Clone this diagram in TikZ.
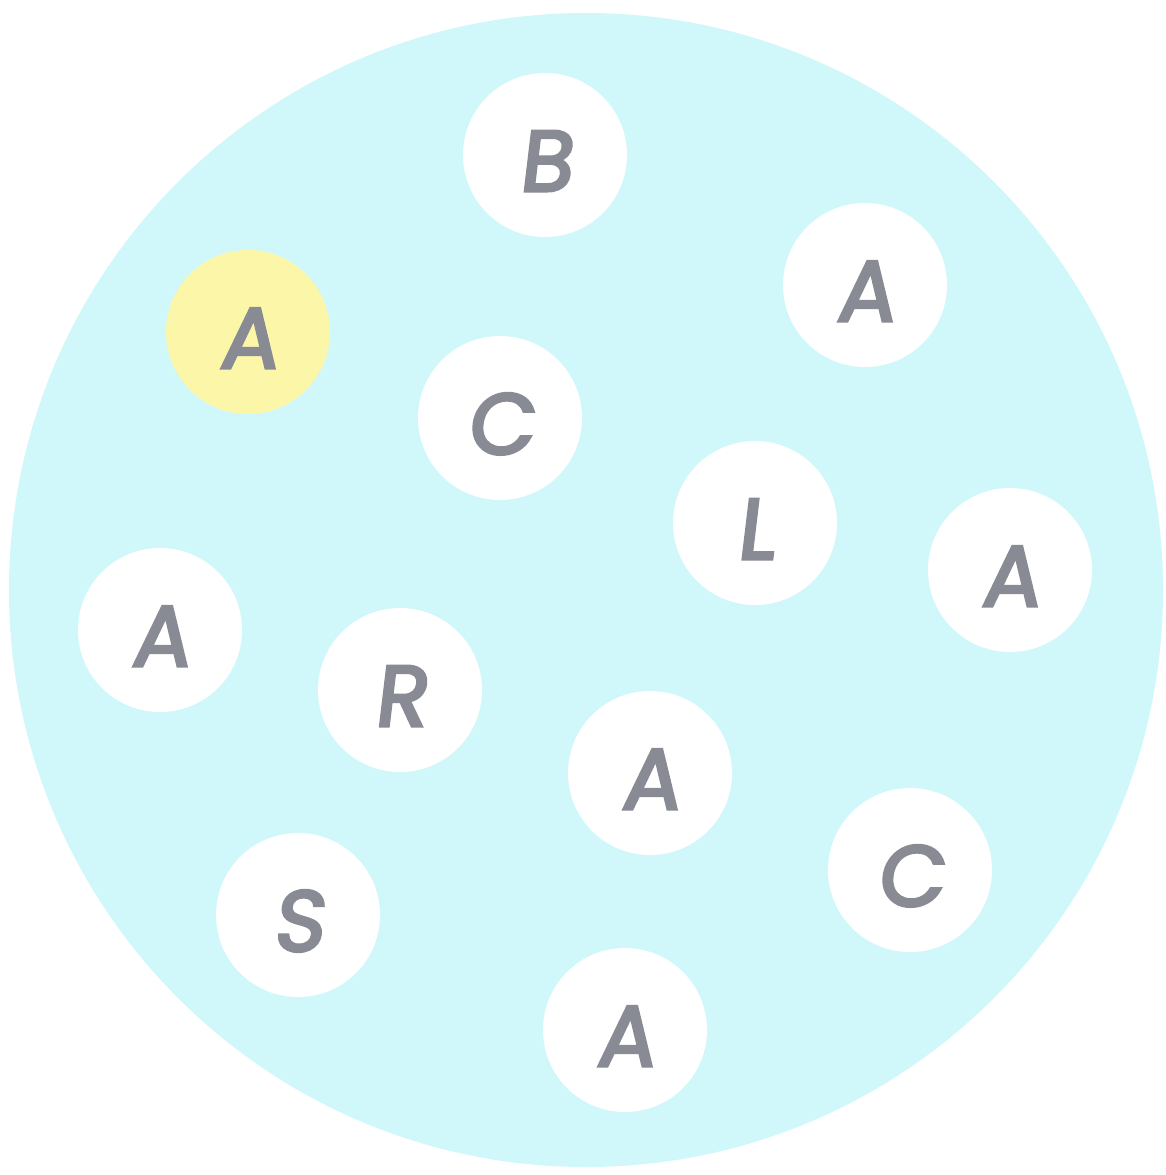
\documentclass[tikz,border=0pt]{standalone}
\usepackage{fontspec}
\newfontfamily\letterfont[FakeSlant=0.12,FakeBold=3.5]{Poppins}
\definecolor{bgcyan}{RGB}{208,247,250}
\definecolor{ballyellow}{RGB}{252,246,168}
\definecolor{lettergray}{RGB}{136,138,148}
\begin{document}
\begin{tikzpicture}[x=1pt,y=-1pt,
  ball/.style={circle, fill=white, minimum size=164pt, inner sep=0pt,
    text height=72pt, text depth=0pt,
    font=\letterfont\fontsize{86}{86}\selectfont, text=lettergray},
  yball/.style={ball, fill=ballyellow}]
\useasboundingbox (0,0) rectangle (1166,1175);
\fill[bgcyan] (586,590) circle (577);
\node[ball] (b)  at (545,155) {B};
\node[ball] (a1) at (865,285) {A};
\node[yball] (a0) at (248,332) {A};
\node[ball] (c1) at (500,418) {C};
\node[ball] (l)  at (755,523) {L};
\node[ball] (a2) at (1010,570) {A};
\node[ball] (a3) at (160,630) {A};
\node[ball] (r)  at (400,690) {R};
\node[ball] (a4) at (650,773) {A};
\node[ball] (c2) at (910,870) {C};
\node[ball] (s)  at (298,915) {S};
\node[ball] (a5) at (625,1030) {A};
\end{tikzpicture}
\end{document}
